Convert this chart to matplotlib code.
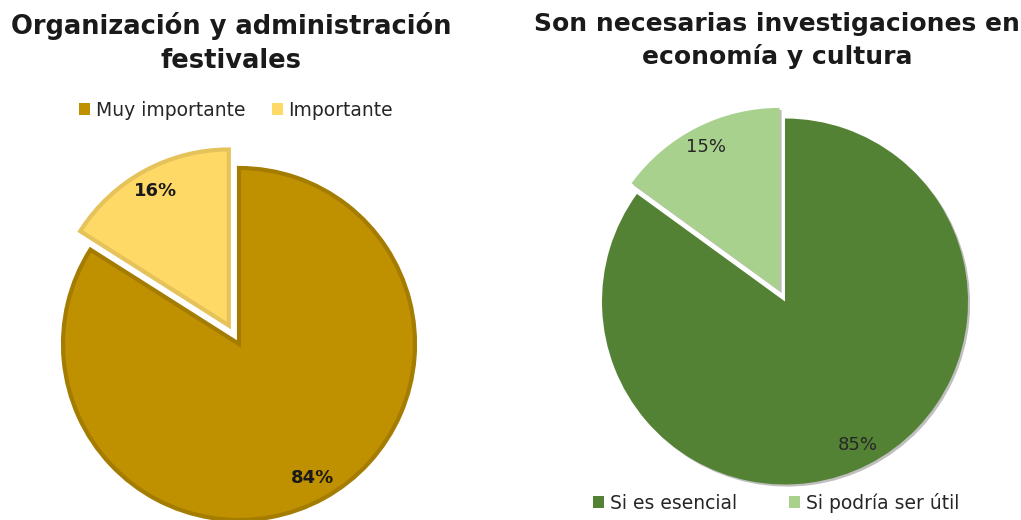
import matplotlib.pyplot as plt
import matplotlib.patheffects as pe
from matplotlib.patches import Patch

# left chart
left_title = "Organización y administración\nfestivales"
left_labels = ["Muy importante", "Importante"]
left_values = [84, 16]
left_colors = ["#BF9000", "#FFD966"]
left_edges = ["#A47C00", "#E6C35A"]

# right chart
right_title = "Son necesarias investigaciones en\neconomía y cultura"
right_labels = ["Si es esencial", "Si podría ser útil"]
right_values = [85, 15]
right_colors = ["#548235", "#A9D18E"]

W, H = 1021, 520
plt.rcParams['font.family'] = ['DejaVu Sans']

fig = plt.figure(figsize=(W / 100, H / 100), dpi=100)


def pie_axes(cx, cy, r, box=400):
    # cx, cy in pixels from top-left, r = pie radius in pixels
    ax = fig.add_axes([(cx - box / 2) / W, (H - cy - box / 2) / H, box / W, box / H])
    return ax, box / 2 / r


def square_handles(colors):
    return [Patch(facecolor=c, edgecolor='none') for c in colors]


# ---- left pie ----
ax1, lim1 = pie_axes(239, 344, 176)
w1, t1, a1 = ax1.pie(left_values, colors=left_colors, startangle=90, counterclock=False,
                     explode=[0, 0.12], autopct='%1.0f%%', pctdistance=0.87,
                     wedgeprops=dict(linewidth=3))
for w, ec in zip(w1, left_edges):
    w.set_edgecolor(ec)
for t in a1:
    t.set_fontsize(13)
    t.set_fontweight('bold')
    t.set_color('#1a1a1a')
ax1.set_xlim(-lim1, lim1)
ax1.set_ylim(-lim1, lim1)
ax1.set_aspect('equal')

fig.text(231 / W, 1 - 12 / H, left_title, ha='center', va='top', fontsize=18.5,
         fontweight='bold', color='#1a1a1a', linespacing=1.42)
fig.legend(square_handles(left_colors), left_labels, loc='center',
           bbox_to_anchor=(236 / W, 1 - 110 / H),
           ncol=2, frameon=False, fontsize=13.5, handlelength=0.6, handleheight=0.6,
           handletextpad=0.3, columnspacing=1.4, labelcolor='#262626')

# ---- right pie ----
ax2, lim2 = pie_axes(785, 301.5, 183)
shadow = [pe.SimplePatchShadow(offset=(1.5, -1.5), shadow_rgbFace='#808080', alpha=0.5),
          pe.Normal()]
w2, t2, a2 = ax2.pie(right_values, colors=right_colors, startangle=90, counterclock=False,
                     explode=[0, 0.065], autopct='%1.0f%%', pctdistance=0.88,
                     wedgeprops=dict(linewidth=0, path_effects=shadow))
for t in a2:
    t.set_fontsize(13)
    t.set_color('#262626')
ax2.set_xlim(-lim2, lim2)
ax2.set_ylim(-lim2, lim2)
ax2.set_aspect('equal')

fig.text(777 / W, 1 - 12 / H, right_title, ha='center', va='top', fontsize=18,
         fontweight='bold', color='#1a1a1a', linespacing=1.42)
fig.legend(square_handles(right_colors), right_labels, loc='center',
           bbox_to_anchor=(776 / W, 1 - 503 / H),
           ncol=2, frameon=False, fontsize=13.5, handlelength=0.6, handleheight=0.6,
           handletextpad=0.3, columnspacing=2.8, labelcolor='#262626')

fig.savefig("out.png", dpi=100)
